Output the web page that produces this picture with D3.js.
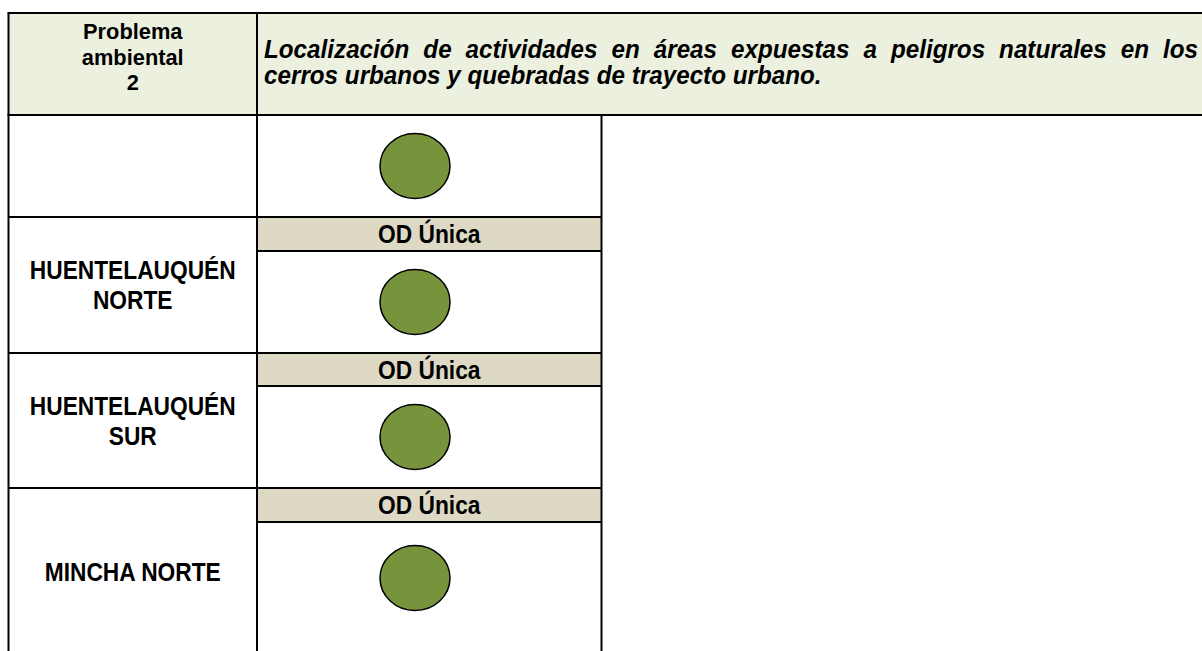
<!DOCTYPE html>
<html><head><meta charset="utf-8">
<script src="https://cdn.jsdelivr.net/npm/d3@7/dist/d3.min.js"></script>
<style>
html,body{margin:0;padding:0;background:#fff;}
svg{display:block;}
</style></head>
<body>
<svg id="chart" width="1202" height="651"></svg>
<script>
// ---- data ----
const headerLabel = ["Problema", "ambiental", "2"];
const headerTitleLines = [
  "Localización de actividades en áreas expuestas a peligros naturales en los",
  "cerros urbanos y quebradas de trayecto urbano."
];
const categories = [[""], ["HUENTELAUQUÉN", "NORTE"], ["HUENTELAUQUÉN", "SUR"], ["MINCHA NORTE"]];
const bandLabels = [null, "OD Única", "OD Única", "OD Única"];
const markerValues = [1, 1, 1, 1];

// ---- layout ----
const FONT = "'Liberation Sans','Arial',sans-serif";
const FS = 25, SX = 0.91;
const leftX = 8.5, colDiv = 257, col2Right = 601.5, rightX = 1202;
const topY = 13, headerBottom = 115;
const rowEdges = [115, 217, 353, 488, 656];
const bandH = [0, 34, 33, 34];
const svg = d3.select("#chart");

const rowIdx = d3.range(categories.length);
const yAt = i => rowEdges[i];

function narrowText(x, y, str, fs, sx) {
  const g = svg.append("g").attr("transform", `translate(${x},${y}) scale(${sx || SX},1)`);
  return g.append("text").attr("x", 0).attr("y", 0).attr("text-anchor", "middle")
    .attr("font-family", FONT).attr("font-weight", "bold").attr("font-size", fs || FS)
    .attr("fill", "#000").text(str);
}

// header background
svg.append("rect").attr("x", leftX).attr("y", topY).attr("width", rightX - leftX).attr("height", headerBottom - topY)
  .attr("fill", "#EBF1DE");

// bands
rowIdx.forEach(i => {
  if (bandLabels[i]) {
    svg.append("rect").attr("x", colDiv).attr("y", yAt(i)).attr("width", col2Right - colDiv).attr("height", bandH[i])
      .attr("fill", "#DDD9C4");
    narrowText((colDiv + col2Right) / 2, yAt(i) + bandH[i] / 2 + 9, bandLabels[i]);
  }
});

// circles
const r = d3.scaleSqrt().domain([0, 1]).range([0, 1]);
rowIdx.forEach(i => {
  const y0 = yAt(i) + bandH[i], y1 = yAt(i + 1);
  svg.append("ellipse").attr("cx", 415).attr("cy", y0 + Math.min((y1 - y0) / 2, 56))
    .attr("rx", 35 * r(markerValues[i])).attr("ry", 32.5 * r(markerValues[i]))
    .attr("fill", "#77933C").attr("stroke", "#000").attr("stroke-width", 1.5);
});

// lines
const L = (x1, y1, x2, y2) => svg.append("line").attr("x1", x1).attr("y1", y1).attr("x2", x2).attr("y2", y2)
  .attr("stroke", "#000").attr("stroke-width", 2);
L(leftX - 1, topY, rightX, topY);
L(leftX - 1, headerBottom, rightX, headerBottom);
L(leftX, topY, leftX, 651);
L(colDiv, topY, colDiv, 651);
L(col2Right, headerBottom, col2Right, 651);
rowIdx.forEach(i => {
  if (i > 0) L(leftX, yAt(i), col2Right, yAt(i));
  if (bandLabels[i]) L(colDiv, yAt(i) + bandH[i], col2Right, yAt(i) + bandH[i]);
});

// header label
headerLabel.forEach((t, k) => narrowText((leftX + colDiv) / 2, 39 + k * 25.5, t, 22.5, 0.97));

// header title (justified first line)
const tx0 = 264, tx1 = 1198, TSX = 0.97;
headerTitleLines.forEach((line, k) => {
  const words = line.split(" ");
  const g = svg.append("g").attr("transform", `translate(${tx0},${58 + k * 26}) scale(${TSX},1)`);
  const mk = s => g.append("text").attr("font-family", FONT).attr("font-weight", "bold")
    .attr("font-style", "italic").attr("font-size", FS).attr("y", 0).text(s);
  const ts = words.map(w => mk(w));
  const widths = ts.map(t => t.node().getComputedTextLength());
  let gap;
  if (k === 0) gap = ((tx1 - tx0) / TSX - d3.sum(widths)) / (words.length - 1);
  else {
    const sp = mk("a a"), sa = mk("aa");
    gap = sp.node().getComputedTextLength() - sa.node().getComputedTextLength();
    sp.remove(); sa.remove();
  }
  let x = 0;
  ts.forEach((t, j) => { t.attr("x", x); x += widths[j] + gap; });
});

// row labels
rowIdx.forEach(i => {
  const lines = categories[i].filter(s => s);
  if (!lines.length) return;
  const cy = (yAt(i) + yAt(i + 1)) / 2;
  lines.forEach((s, k) => narrowText((leftX + colDiv) / 2, cy + 9 + (k - (lines.length - 1) / 2) * 30, s));
});
</script>
</body></html>
